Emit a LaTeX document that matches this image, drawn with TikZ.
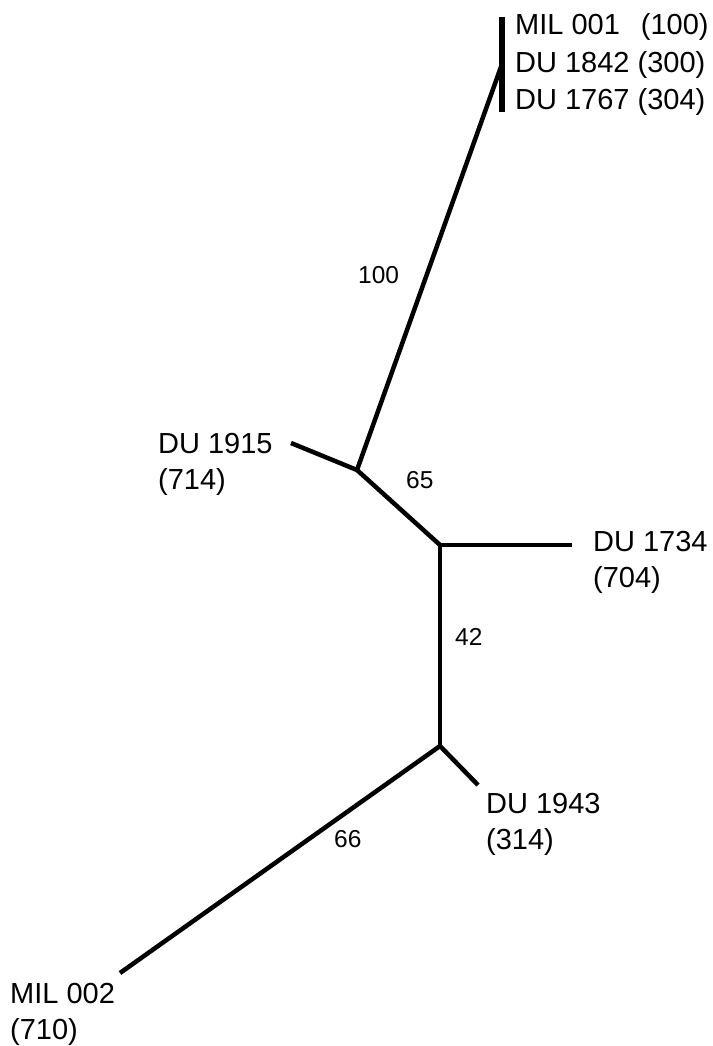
\documentclass[tikz,border=0pt]{standalone}
\usepackage{fontspec}
\setmainfont{Liberation Sans}
\begin{document}
\begin{tikzpicture}[x=1pt,y=-1pt,
  branch/.style={line width=4.5pt},
  leaf/.style={anchor=base west,inner sep=0pt,font=\fontsize{29}{36}\selectfont},
  support/.style={anchor=base west,inner sep=0pt,font=\fontsize{24.5}{28}\selectfont}]
\useasboundingbox (0,0) rectangle (712,1046);
% internal points
\coordinate (bt) at (502,17);
\coordinate (bb) at (502,112);
\coordinate (T) at (502,64);
\coordinate (A) at (357,470);
\coordinate (B) at (440,545);
\coordinate (C) at (440,746);
% leaf ends
\coordinate (e1915) at (291,443);
\coordinate (e1734) at (572,545);
\coordinate (e1943) at (478,785);
\coordinate (e002) at (120,973);
% tree
\draw[line width=6pt] (bt) -- (bb);
\draw[branch] (T) -- (A);
\draw[branch] (A) -- (e1915);
\draw[branch] (A) -- (B);
\draw[branch] (B) -- (e1734);
\draw[branch] (B) -- (C);
\draw[branch] (C) -- (e1943);
\draw[branch] (C) -- (e002);
% leaf labels
\node[leaf] (lTop) at (515,35) {\vtop{\baselineskip=37.5pt\hbox{MIL 001\ \ \,(100)}\hbox{DU 1842 (300)}\hbox{DU 1767 (304)}}};
\node[leaf] (l1915) at (158,453) {\vtop{\hbox{DU 1915}\hbox{(714)}}};
\node[leaf] (l1734) at (593,551) {\vtop{\hbox{DU 1734}\hbox{(704)}}};
\node[leaf] (l1943) at (486,813) {\vtop{\hbox{DU 1943}\hbox{(314)}}};
\node[leaf] (l002) at (10,1003) {\vtop{\hbox{MIL 002}\hbox{(710)}}};
% support values
\node[support] (s100) at (358,283) {100};
\node[support] (s65) at (406,488) {65};
\node[support] (s42) at (455,645) {42};
\node[support] (s66) at (334,847) {66};
\end{tikzpicture}
\end{document}
